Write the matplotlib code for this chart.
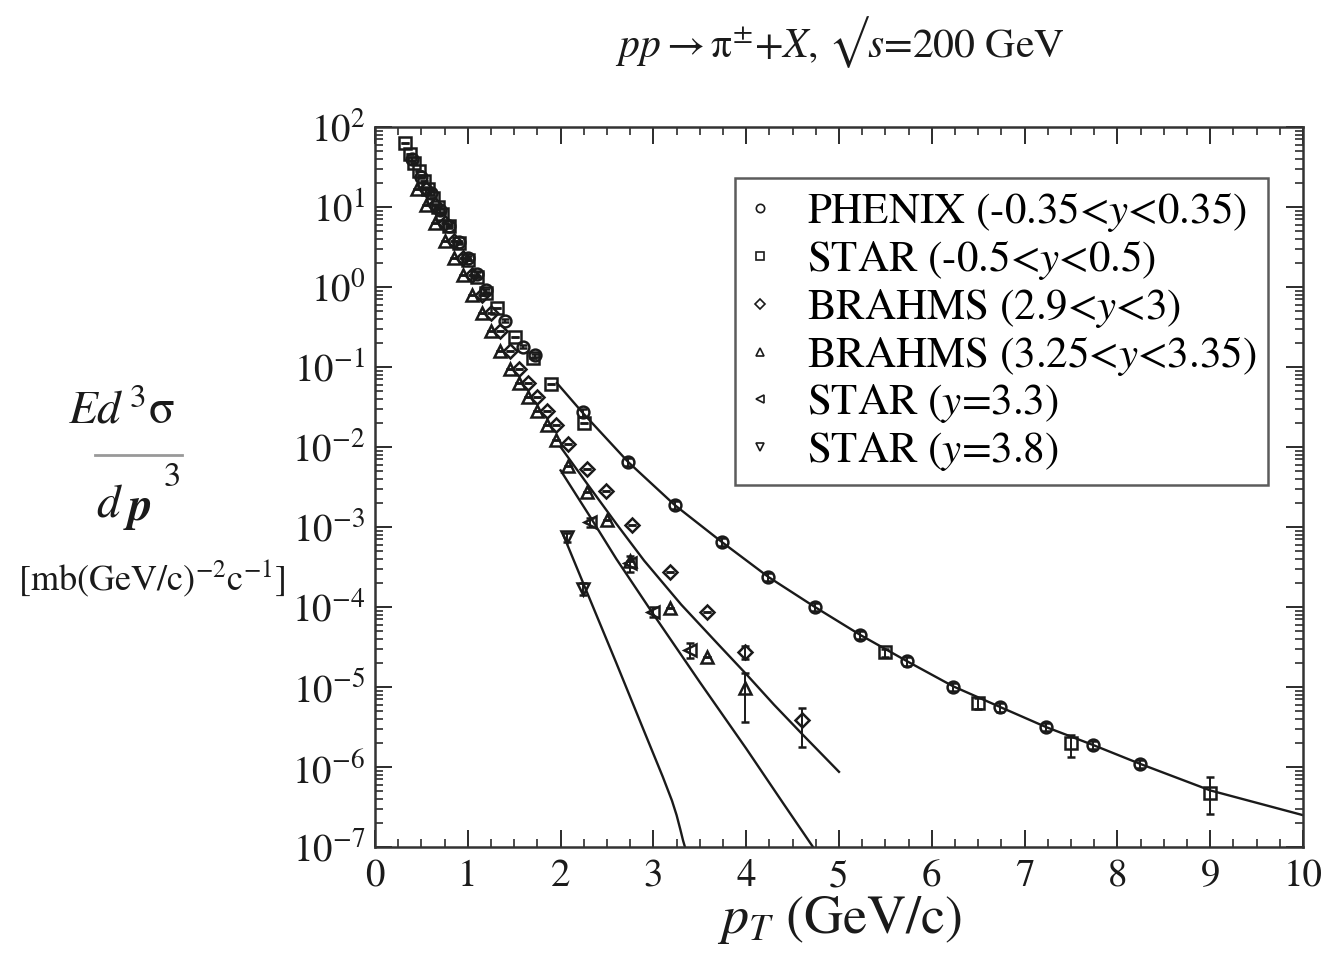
import numpy as np
import matplotlib
matplotlib.use("Agg")
import matplotlib.pyplot as plt
from matplotlib.lines import Line2D
from matplotlib.ticker import LogLocator, MultipleLocator, NullFormatter

plt.rcParams['font.family'] = ['STIXGeneral', 'DejaVu Serif']
plt.rcParams['mathtext.fontset'] = 'stix'
plt.rcParams['axes.unicode_minus'] = False

# ---------------- data ----------------
# PHENIX, -0.35<y<0.35
phenix_pt = [0.40, 0.50, 0.60, 0.70, 0.80, 0.90, 1.00, 1.10, 1.20, 1.40, 1.60, 1.72,
             2.24, 2.73, 3.23, 3.74, 4.24, 4.74, 5.23, 5.73, 6.23, 6.73, 7.23, 7.74, 8.24]
phenix_val = [40, 24, 15, 9.1, 5.8, 3.6, 2.3, 1.45, 0.91, 0.38, 0.18, 0.14,
              0.027, 6.5e-3, 1.9e-3, 6.5e-4, 2.4e-4, 1.0e-4, 4.5e-5, 2.1e-5, 1.0e-5,
              5.6e-6, 3.2e-6, 1.9e-6, 1.1e-6]
phenix_relerr = [0.05] * 12 + [0.12] * 13

# STAR, -0.5<y<0.5
starmid_pt = [0.32, 0.375, 0.425, 0.475, 0.525, 0.575, 0.625, 0.675, 0.725, 0.80, 0.90,
              1.00, 1.10, 1.20, 1.31, 1.51, 1.70, 1.90, 2.25, 5.5, 6.5, 7.5, 9.0]
starmid_val = [63, 46, 35, 28, 21, 17, 13, 10, 8.1, 5.8, 3.5,
               2.2, 1.35, 0.85, 0.55, 0.24, 0.13, 0.062, 0.020, 2.7e-5, 6.3e-6, 2.0e-6, 4.7e-7]
starmid_lo = [0] * 19 + [3e-6, 1.0e-6, 0.65e-6, 2.1e-7]
starmid_hi = [0] * 19 + [3e-6, 1.0e-6, 0.5e-6, 2.9e-7]

# BRAHMS, 2.9<y<3
brahms29_pt = [0.55, 0.65, 0.75, 0.85, 0.95, 1.05, 1.15, 1.25, 1.35, 1.45, 1.55, 1.65, 1.75,
               1.85, 1.95, 2.08, 2.28, 2.49, 2.77, 3.18, 3.58, 3.99, 4.60]
brahms29_val = [17, 10.5, 6.3, 3.8, 2.3, 1.4, 0.79, 0.47, 0.28, 0.16, 0.095, 0.063, 0.042,
                0.028, 0.019, 0.011, 5.3e-3, 2.8e-3, 1.06e-3, 2.7e-4, 8.7e-5, 2.75e-5, 3.9e-6]
brahms29_lo = [0] * 21 + [0.5e-5, 2.1e-6]
brahms29_hi = [0] * 21 + [0.5e-5, 1.6e-6]

# BRAHMS, 3.25<y<3.35
brahms325_pt = [0.45, 0.55, 0.65, 0.75, 0.85, 0.95, 1.05, 1.15, 1.25, 1.35, 1.45, 1.55, 1.65,
                1.75, 1.85, 1.95, 2.08, 2.28, 2.50, 2.75, 3.18, 3.58, 3.99]
brahms325_val = [17, 10.5, 6.3, 3.8, 2.3, 1.4, 0.79, 0.47, 0.28, 0.16, 0.095, 0.063, 0.042,
                 0.028, 0.019, 0.0123, 5.8e-3, 2.7e-3, 1.23e-3, 3.8e-4, 9.8e-5, 2.4e-5, 9.8e-6]
brahms325_lo = [0] * 22 + [6.2e-6]
brahms325_hi = [0] * 22 + [5.2e-6]

# STAR, y=3.3
star33_pt = [2.32, 2.75, 3.00, 3.39]
star33_val = [1.15e-3, 3.5e-4, 8.7e-5, 2.9e-5]
star33_err = [1.5e-4, 8e-5, 1.2e-5, 6e-6]

# STAR, y=3.8
star38_pt = [2.07, 2.24]
star38_val = [7.5e-4, 1.7e-4]
star38_err = [1.0e-4, 3.0e-5]

# model curves
curve_mid_pt = [1.96, 2.24, 2.73, 3.23, 3.74, 4.24, 4.74, 5.23, 5.73, 6.23, 6.74,
                7.23, 7.74, 8.24, 9.0, 10.0]
curve_mid_val = [0.063, 0.0266, 6.46e-3, 1.88e-3, 6.46e-4, 2.37e-4, 1.0e-4, 4.47e-5,
                 2.11e-5, 1.02e-5, 5.6e-6, 3.16e-6, 1.88e-6, 1.1e-6, 5.1e-7, 2.5e-7]
curve_y3_pt = [2.0, 2.3, 2.6, 2.9, 3.3, 3.7, 4.0, 4.3, 4.6, 5.0]
curve_y3_val = [1.0e-2, 3.3e-3, 1.1e-3, 3.8e-4, 1.07e-4, 3.4e-5, 1.45e-5, 6.0e-6, 2.6e-6, 8.7e-7]
curve_y33_pt = [2.0, 2.3, 2.6, 3.0, 3.5, 4.0, 4.4, 4.72]
curve_y33_val = [5.1e-3, 1.45e-3, 4.0e-4, 8.1e-5, 1.15e-5, 1.7e-6, 3.5e-7, 1.0e-7]
curve_y38_pt = [2.03, 2.3, 2.6, 2.9, 3.1, 3.2, 3.25, 3.29, 3.32, 3.34]
curve_y38_val = [7.9e-4, 1.38e-4, 2.0e-5, 2.8e-6, 7.6e-7, 3.8e-7, 2.5e-7, 1.66e-7,
                 1.2e-7, 1.0e-7]

labels = [r'PHENIX (-0.35<$y$<0.35)', r'STAR (-0.5<$y$<0.5)', r'BRAHMS (2.9<$y$<3)',
          r'BRAHMS (3.25<$y$<3.35)', r'STAR ($y$=3.3)', r'STAR ($y$=3.8)']

# ---------------- figure ----------------
W, H = 1337, 961
fig = plt.figure(figsize=(W / 100, H / 100), dpi=100)
ax = fig.add_axes([375 / W, 1 - 847 / H, (1303 - 375) / W, (847 - 127) / H])

ink = '#1a1a1a'
lw_curve = 1.7
for cx, cy in [(curve_mid_pt, curve_mid_val), (curve_y3_pt, curve_y3_val),
               (curve_y33_pt, curve_y33_val), (curve_y38_pt, curve_y38_val)]:
    ax.plot(cx, cy, color=ink, lw=lw_curve, zorder=2)

mk = dict(ls='none', mfc='none', mec=ink, mew=1.8, ecolor=ink, elinewidth=1.4,
          capsize=3, capthick=1.3, zorder=3)

ph_err = [v * e for v, e in zip(phenix_val, phenix_relerr)]
ax.errorbar(phenix_pt, phenix_val, yerr=ph_err, marker='o', ms=8.5, **mk)
ax.errorbar(starmid_pt, starmid_val, yerr=[starmid_lo, starmid_hi], marker='s', ms=8, **mk)
ax.errorbar(brahms29_pt, brahms29_val, yerr=[brahms29_lo, brahms29_hi], marker='D', ms=7, **mk)
ax.errorbar(brahms325_pt, brahms325_val, yerr=[brahms325_lo, brahms325_hi], marker='^', ms=8.5, **mk)
ax.errorbar(star33_pt, star33_val, yerr=star33_err, marker='<', ms=8.5, **mk)
ax.errorbar(star38_pt, star38_val, yerr=star38_err, marker='v', ms=8.5, **mk)

ax.set_xlim(0, 10)
ax.set_yscale('log')
ax.set_ylim(1e-7, 1e2)
ax.xaxis.set_major_locator(MultipleLocator(1))
ax.xaxis.set_minor_locator(MultipleLocator(0.25))
ax.yaxis.set_major_locator(LogLocator(base=10, numticks=20))
ax.yaxis.set_minor_locator(LogLocator(base=10, subs=np.arange(2, 10), numticks=200))
ax.yaxis.set_minor_formatter(NullFormatter())
ax.tick_params(which='both', direction='in', top=True, right=True, colors=ink)
ax.tick_params(which='major', length=12, width=1.3, labelsize=28, pad=7)
ax.tick_params(which='minor', length=6, width=1.1)
ax.tick_params(axis='x', which='major', pad=9)
for s in ax.spines.values():
    s.set_linewidth(1.8)
    s.set_color('#333333')

# legend
handles = []
for m, ms in zip(['o', 's', 'D', '^', '<', 'v'], [6, 5.5, 5, 6, 6, 6]):
    handles.append(Line2D([], [], ls='none', marker=m, ms=ms, mfc='none', mec=ink, mew=1.2))
leg = ax.legend(handles, labels, loc='upper right',
                bbox_to_anchor=(1268 / W, 1 - 178 / H), bbox_transform=fig.transFigure,
                fontsize=31, frameon=True, fancybox=False, edgecolor='#333333',
                handlelength=0.6, handletextpad=0.78, labelspacing=0.1,
                borderpad=0.28, borderaxespad=0)
leg.get_frame().set_linewidth(1.8)

# titles and axis labels
fig.text(840 / W, 1 - 42 / H, r'$pp\rightarrow$π$^{\pm}$+$X$, √$s$=200 GeV',
         ha='center', va='center', fontsize=30, color=ink)
fig.text(840 / W, 1 - 920 / H, r'$p_T$ (GeV/c)', ha='center', va='center',
         fontsize=39, color=ink)

fig.text(122 / W, 1 - 412 / H, r'$Ed^{\,3}$σ', ha='center', va='center',
         fontsize=34, color=ink)
fig.add_artist(Line2D([95 / W, 182 / W], [1 - 455 / H, 1 - 455 / H],
                      transform=fig.transFigure, color='#999999', lw=2))
fig.text(108 / W, 1 - 505 / H, 'd', ha='center', va='center', fontsize=34,
         style='italic', color=ink)
fig.text(140 / W, 1 - 508 / H, 'p', ha='center', va='center', fontsize=34,
         style='italic', weight='bold', color=ink)
fig.text(172 / W, 1 - 478 / H, '3', ha='center', va='center', fontsize=25, color=ink)
fig.text(152 / W, 1 - 578 / H, r'[mb(GeV/c)$^{-2}$c$^{-1}$]', ha='center', va='center',
         fontsize=26, color=ink)

fig.savefig('out.png', dpi=100)
